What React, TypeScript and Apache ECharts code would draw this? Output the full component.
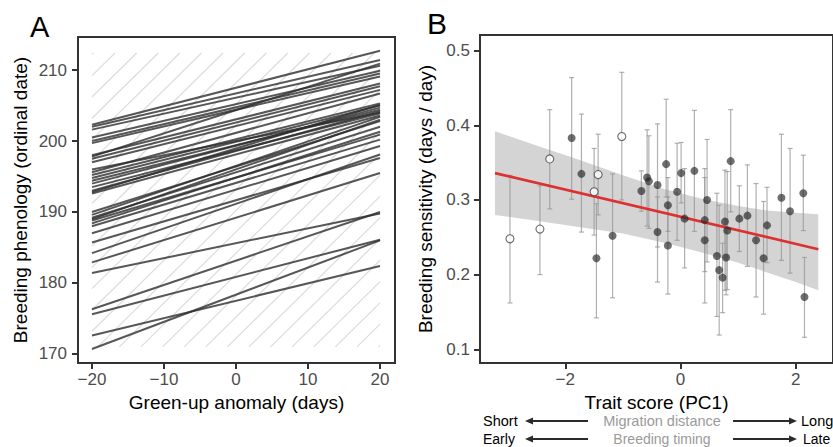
import React, { useEffect, useRef } from "react";
import * as echarts from "echarts";

// ---------- Panel A data ----------
const anomalyRange = [-20, 20];
const phenologyAtMinus20 = [
  170.7, 172.6, 175.6, 176.3, 181.4, 182.9, 184.2, 185.7, 187.0, 188.0,
  188.4, 188.8, 189.0, 189.2, 189.6, 190.0, 192.6, 192.8, 193.0, 193.5,
  194.0, 194.4, 194.8, 195.2, 195.6, 196.0, 197.0, 197.5, 197.8, 198.0,
  199.7, 200.0, 200.5, 201.6, 202.0, 202.3,
];
const phenologyAtPlus20 = [
  186.0, 182.4, 186.1, 190.0, 189.8, 195.5, 198.1, 197.6, 199.3, 200.2,
  201.3, 200.9, 203.0, 202.0, 203.4, 202.8, 203.6, 205.1, 204.2, 203.9,
  204.7, 204.4, 205.0, 205.3, 206.7, 204.0, 207.2, 207.7, 210.9, 208.1,
  209.1, 209.5, 209.9, 210.6, 211.4, 212.7,
];
const oneToOneIntercepts = [
  151.2, 154.2, 157.2, 160.2, 163.2, 166.2, 169.2, 172.2, 175.2, 178.2,
  181.2, 184.2, 187.2, 190.2, 193.2, 196.2, 199.2, 202.2, 205.2, 208.2,
  211.2, 214.2, 217.2, 220.2, 223.2, 226.2, 229.2, 232.2,
];
const hatchYRange = [171, 212.4];
const xTicksA = [-20, -10, 0, 10, 20];
const yTicksA = [170, 180, 190, 200, 210];

// ---------- Panel B data ----------
const traitScore = [
  -2.96, -2.44, -2.27, -1.89, -1.72, -1.43, -1.5, -1.46, -1.18, -1.02,
  -0.68, -0.58, -0.55, -0.4, -0.4, -0.25, -0.22, -0.22, -0.06, 0.01,
  0.07, 0.24, 0.42, 0.42, 0.46, 0.63, 0.67, 0.73, 0.77, 0.81,
  0.79, 0.87, 1.02, 1.16, 1.31, 1.44, 1.5, 1.75, 1.9, 2.13, 2.15,
];
const sensitivity = [
  0.248, 0.261, 0.355, 0.383, 0.335, 0.334, 0.311, 0.222, 0.252, 0.385,
  0.312, 0.33, 0.325, 0.32, 0.257, 0.348, 0.293, 0.239, 0.311, 0.336,
  0.275, 0.339, 0.273, 0.246, 0.3, 0.225, 0.206, 0.196, 0.271, 0.259,
  0.223, 0.352, 0.275, 0.279, 0.246, 0.222, 0.266, 0.303, 0.285, 0.309, 0.17,
];
const sensLow = [
  0.162, 0.2, 0.288, 0.301, 0.257, 0.28, 0.253, 0.142, 0.169, 0.3,
  0.285, 0.265, 0.262, 0.237, 0.19, 0.304, 0.258, 0.174, 0.246, 0.296,
  0.209, 0.258, 0.204, 0.162, 0.217, 0.144, 0.119, 0.149, 0.179, 0.18,
  0.173, 0.284, 0.231, 0.211, 0.17, 0.147, 0.216, 0.219, 0.202, 0.259, 0.116,
];
const sensHigh = [
  0.333, 0.319, 0.421, 0.464, 0.415, 0.388, 0.369, 0.295, 0.335, 0.471,
  0.339, 0.394, 0.386, 0.402, 0.304, 0.435, 0.33, 0.304, 0.376, 0.377,
  0.342, 0.42, 0.342, 0.33, 0.381, 0.309, 0.293, 0.242, 0.34, 0.338,
  0.275, 0.421, 0.319, 0.347, 0.322, 0.298, 0.317, 0.388, 0.369, 0.36, 0.223,
];
const openMarker = [
  true, true, true, false, false, true, true, false, false, true,
  false, false, false, false, false, false, false, false, false, false,
  false, false, false, false, false, false, false, false, false, false,
  false, false, false, false, false, false, false, false, false, false, false,
];
const fitX = [-3.22, 2.39];
const fitY = [0.336, 0.234];
const bandX = [-3.22, -2.5, -1.8, -1.0, -0.3, 0.4, 1.0, 1.5, 2.0, 2.39];
const bandLow = [0.28, 0.272, 0.264, 0.255, 0.243, 0.229, 0.216, 0.203, 0.19, 0.179];
const bandHigh = [0.392, 0.373, 0.355, 0.333, 0.315, 0.301, 0.292, 0.286, 0.283, 0.281];
const xTicksB = [-2, 0, 2];
const yTicksB = [0.1, 0.2, 0.3, 0.4, 0.5];

const FONT = "'Liberation Sans', Arial, Helvetica, sans-serif";
const fmt = (v: number) => (v < 0 ? "\u2212" + Math.abs(v) : String(v));

function arrow(x1: number, x2: number, y: number, tipAtEnd: boolean) {
  const tip = tipAtEnd ? x2 : x1;
  const dir = tipAtEnd ? -1 : 1;
  return [
    {
      type: "line",
      shape: { x1: tipAtEnd ? x1 : x1 + 5, y1: y, x2: tipAtEnd ? x2 - 5 : x2, y2: y },
      style: { stroke: "#2b2b2b", lineWidth: 2 },
    },
    {
      type: "polygon",
      shape: { points: [[tip, y], [tip + dir * 8, y - 3.5], [tip + dir * 8, y + 3.5]] },
      style: { fill: "#2b2b2b" },
    },
  ];
}

export default function App() {
  const ref = useRef<HTMLDivElement>(null);
  useEffect(() => {
    document.body.style.margin = "0";
    const chart = echarts.init(ref.current!, null, { renderer: "svg" });

    const axisLine = { show: true, onZero: false, lineStyle: { color: "#333", width: 2 } };
    const axisTickStyle = { show: true, length: 6, lineStyle: { color: "#333", width: 2 } };
    const labelStyle = { color: "#4d4d4d", fontSize: 17, fontFamily: FONT };
    const nameStyle = { color: "#000", fontSize: 19, fontFamily: FONT };

    const linesData = phenologyAtMinus20.map((s, i) => ({
      coords: [
        [anomalyRange[0], s],
        [anomalyRange[1], phenologyAtPlus20[i]],
      ],
    }));

    const filled: number[][] = [];
    const open: number[][] = [];
    traitScore.forEach((x, i) => {
      (openMarker[i] ? open : filled).push([x, sensitivity[i]]);
    });

    const option: any = {
      animation: false,
      grid: [
        { left: 78, top: 37, width: 317, height: 326, show: true, borderColor: "#333", borderWidth: 2 },
        { left: 480, top: 35, width: 359, height: 328, show: true, borderColor: "#333", borderWidth: 2 },
      ],
      xAxis: [
        {
          gridIndex: 0, type: "value", min: -21.94, max: 22.08,
          axisLine, splitLine: { show: false },
          axisTick: { ...axisTickStyle, customValues: xTicksA },
          axisLabel: { ...labelStyle, customValues: xTicksA, formatter: fmt, margin: 8 },
          name: "Green-up anomaly (days)", nameLocation: "middle", nameGap: 27, nameTextStyle: nameStyle,
        },
        {
          gridIndex: 1, type: "value", min: -3.48, max: 2.645,
          axisLine, splitLine: { show: false },
          axisTick: { ...axisTickStyle, customValues: xTicksB },
          axisLabel: { ...labelStyle, customValues: xTicksB, formatter: fmt, margin: 8 },
          name: "Trait score (PC1)", nameLocation: "middle", nameGap: 21, nameTextStyle: nameStyle,
        },
      ],
      yAxis: [
        {
          gridIndex: 0, type: "value", min: 168.73, max: 214.65,
          axisLine, splitLine: { show: false },
          axisTick: { ...axisTickStyle, customValues: yTicksA },
          axisLabel: { ...labelStyle, customValues: yTicksA, formatter: fmt, margin: 11 },
          name: "Breeding phenology (ordinal date)", nameLocation: "middle", nameGap: 48, nameTextStyle: nameStyle,
        },
        {
          gridIndex: 1, type: "value", min: 0.0816, max: 0.521,
          axisLine, splitLine: { show: false },
          axisTick: { ...axisTickStyle, customValues: yTicksB },
          axisLabel: { ...labelStyle, customValues: yTicksB, formatter: fmt, margin: 10 },
          name: "Breeding sensitivity (days / day)", nameLocation: "middle", nameGap: 45, nameTextStyle: nameStyle,
        },
      ],
      series: [
        {
          type: "custom",
          xAxisIndex: 0, yAxisIndex: 0, silent: true, z: 1,
          data: [[0, 0]],
          renderItem: (params: any, api: any) => {
            const [x0, x1] = anomalyRange;
            const [y0, y1] = hatchYRange;
            const children: any[] = [];
            oneToOneIntercepts.forEach((c) => {
              const xa = Math.max(x0, y0 - c);
              const xb = Math.min(x1, y1 - c);
              if (xa < xb) {
                const p1 = api.coord([xa, xa + c]);
                const p2 = api.coord([xb, xb + c]);
                children.push({
                  type: "line",
                  shape: { x1: p1[0], y1: p1[1], x2: p2[0], y2: p2[1] },
                  style: { stroke: "#dcdcdc", lineWidth: 1.2 },
                });
              }
            });
            return { type: "group", children };
          },
        },
        {
          type: "lines",
          coordinateSystem: "cartesian2d",
          xAxisIndex: 0, yAxisIndex: 0, z: 2,
          polyline: false,
          lineStyle: { color: "rgb(45,45,45)", width: 2, opacity: 0.8 },
          data: linesData,
        },
        {
          type: "custom", xAxisIndex: 1, yAxisIndex: 1, silent: true, z: 1,
          data: [[bandX[0], bandLow[0]]],
          renderItem: (params: any, api: any) => {
            const upper = bandX.map((x, i) => api.coord([x, bandHigh[i]]));
            const lower = bandX.map((x, i) => api.coord([x, bandLow[i]])).reverse();
            return {
              type: "polygon",
              shape: { points: upper.concat(lower) },
              style: { fill: "#d4d4d4" },
            };
          },
        },
        {
          type: "custom", xAxisIndex: 1, yAxisIndex: 1, z: 2,
          encode: { x: 0, y: [1, 2] },
          data: traitScore.map((x, i) => [x, sensLow[i], sensHigh[i]]),
          renderItem: (params: any, api: any) => {
            const x = api.value(0);
            const lo = api.coord([x, api.value(1)]);
            const hi = api.coord([x, api.value(2)]);
            const cw = 2.5;
            const st = { stroke: "rgba(150,150,150,0.75)", lineWidth: 1.2 };
            return {
              type: "group",
              children: [
                { type: "line", shape: { x1: lo[0], y1: lo[1], x2: hi[0], y2: hi[1] }, style: st },
                { type: "line", shape: { x1: lo[0] - cw, y1: lo[1], x2: lo[0] + cw, y2: lo[1] }, style: st },
                { type: "line", shape: { x1: hi[0] - cw, y1: hi[1], x2: hi[0] + cw, y2: hi[1] }, style: st },
              ],
            };
          },
        },
        {
          type: "line", xAxisIndex: 1, yAxisIndex: 1, symbol: "none", z: 3,
          lineStyle: { color: "#dd3030", width: 2.7 },
          data: fitX.map((x, i) => [x, fitY[i]]),
        },
        {
          type: "scatter", xAxisIndex: 1, yAxisIndex: 1, z: 4, symbolSize: 8,
          itemStyle: { color: "rgba(35,35,35,0.82)" },
          data: filled,
        },
        {
          type: "scatter", xAxisIndex: 1, yAxisIndex: 1, z: 4, symbolSize: 8,
          itemStyle: { color: "#ffffff", borderColor: "#444", borderWidth: 1.1 },
          data: open,
        },
      ],
      graphic: [
        { type: "text", left: 30, top: 12, style: { text: "A", fontSize: 29, fontFamily: FONT, fill: "#000" } },
        { type: "text", left: 427, top: 8, style: { text: "B", fontSize: 30, fontFamily: FONT, fill: "#000" } },
        { type: "text", x: 483, y: 421, style: { text: "Short", fontSize: 14.5, fontFamily: FONT, fill: "#000", verticalAlign: "middle" } },
        { type: "text", x: 662, y: 421, style: { text: "Migration distance", fontSize: 14.5, fontFamily: FONT, fill: "#9a9a9a", align: "center", verticalAlign: "middle" } },
        { type: "text", x: 801, y: 421, style: { text: "Long", fontSize: 14.5, fontFamily: FONT, fill: "#000", verticalAlign: "middle" } },
        { type: "text", x: 483, y: 439, style: { text: "Early", fontSize: 14, fontFamily: FONT, fill: "#000", verticalAlign: "middle" } },
        { type: "text", x: 662, y: 439, style: { text: "Breeding timing", fontSize: 14, fontFamily: FONT, fill: "#9a9a9a", align: "center", verticalAlign: "middle" } },
        { type: "text", x: 803, y: 439, style: { text: "Late", fontSize: 14, fontFamily: FONT, fill: "#000", verticalAlign: "middle" } },
        ...arrow(525, 588, 421, false),
        ...arrow(733, 797, 421, true),
        ...arrow(525, 588, 439, false),
        ...arrow(733, 797, 439, true),
      ],
    };
    chart.setOption(option);
    return () => chart.dispose();
  }, []);
  return <div ref={ref} style={{ width: 833, height: 447 }} />;
}
